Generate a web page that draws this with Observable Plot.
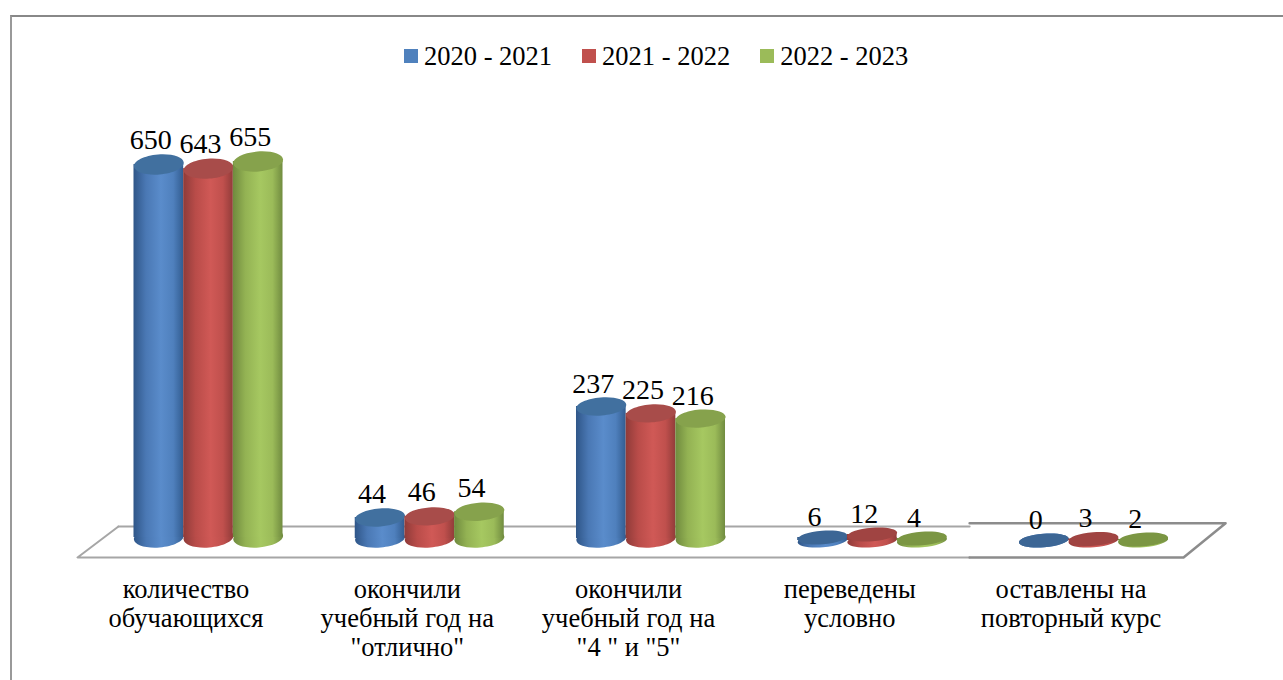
<!DOCTYPE html>
<html lang="ru">
<head>
<meta charset="utf-8">
<script src="https://cdn.jsdelivr.net/npm/d3@7"></script>
<script src="https://cdn.jsdelivr.net/npm/@observablehq/plot@0.6"></script>
<style>
html,body{margin:0;padding:0;background:#fff;overflow:hidden}
body{width:1283px;height:680px;position:relative;font-family:"Liberation Serif",serif;color:#000}
#frame{position:absolute;left:10px;top:15px;right:0;bottom:-5px;border-left:2px solid #999;border-top:2px solid #888;pointer-events:none}
#legend{height:76px;box-sizing:border-box;padding:36px 0 0 404px;display:flex;font-size:26.5px;line-height:28px}
#legend .item{display:flex;align-items:center;margin-right:30px}
#legend .sw{width:14px;height:14px;margin-right:6px;margin-top:-1px}
#chart svg{display:block}
</style>
</head>
<body>
<div id="frame"></div>
<div id="legend"></div>
<div id="chart"></div>
<script>
const categories = ["количество\nобучающихся", "окончили\nучебный год на\n\"отлично\"", "окончили\nучебный год на\n\"4 \" и \"5\"", "переведены\nусловно", "оставлены на\nповторный курс"];
const seriesNames = ["2020 - 2021", "2021 - 2022", "2022 - 2023"];
const values2021 = [650, 44, 237, 6, 0];
const values2022 = [643, 46, 225, 12, 3];
const values2023 = [655, 54, 216, 4, 2];
const swatchColors = ["#4f81bd", "#c0504d", "#9bbb59"];
const capColors = ["#41709f", "#a84c4a", "#86a24c"];
const flatCapColors = ["#3c6695", "#a04442", "#7b9643"];
const gradientStops = [
  ["#2f5688", "#4a78b4", "#5a8ccb", "#4f80bd", "#335d91"],
  ["#8f3b39", "#b94c49", "#d05956", "#c0504d", "#923c3a"],
  ["#6f8a3e", "#93b253", "#a6c861", "#9bbb59", "#718c40"]
];
const baseLevels = [6, 4, 4, 0, 0];
const capRatios = [0.40, 0.36, 0.36, 0.27, 0.27];
const labelLifts = [-16, -15, -14, -12, -12];
const barWidth = 0.2245;
const floorLeft = {x: [-0.407, -0.592, 3.44], y: [27, -34, -34]};
const floorLeftTop = {x: [-0.407, 3.44], y: [27, 27]};
const floorRight = {x: [3.44, 4.597, 4.407, 3.44], y: [33, 33, -34, -34]};

const legend = d3.select("#legend");
seriesNames.forEach((n, s) => {
  const it = legend.append("div").attr("class", "item");
  it.append("div").attr("class", "sw").style("background", swatchColors[s]);
  it.append("div").text(n);
});

function ellipseSymbol(ratio) {
  const th = -4.5 * Math.PI / 180, c = Math.cos(th), sn = Math.sin(th), k = 0.5523;
  return {
    draw(ctx, size) {
      const a = Math.sqrt(size / Math.PI), b = a * ratio;
      const P = (u, v) => [u * a * c - v * b * sn, u * a * sn + v * b * c];
      ctx.moveTo(...P(1, 0));
      ctx.bezierCurveTo(...P(1, k), ...P(k, 1), ...P(0, 1));
      ctx.bezierCurveTo(...P(-k, 1), ...P(-1, k), ...P(-1, 0));
      ctx.bezierCurveTo(...P(-1, -k), ...P(-k, -1), ...P(0, -1));
      ctx.bezierCurveTo(...P(k, -1), ...P(1, -k), ...P(1, 0));
      ctx.closePath();
    }
  };
}

const rows = [values2021, values2022, values2023].map((vals, s) =>
  vals.map((v, i) => ({i, s, v, base: baseLevels[i], cx: i + (s - 1) * barWidth}))
);

function defs() {
  const d = d3.create("svg:defs");
  gradientStops.forEach((st, s) => {
    const g = d.append("linearGradient").attr("id", "cyl" + s).attr("x1", 0).attr("x2", 1).attr("y1", 0).attr("y2", 0);
    [0, 0.25, 0.55, 0.8, 1].forEach((o, j) => g.append("stop").attr("offset", o).attr("stop-color", st[j]));
  });
  return d.node();
}

const marks = [defs];
marks.push(Plot.line(floorLeftTop.x.map((x, j) => ({x, y: floorLeftTop.y[j]})), {x: "x", y: "y", stroke: "#a6a6a6", strokeWidth: 2}));
marks.push(Plot.line(floorLeft.x.map((x, j) => ({x, y: floorLeft.y[j]})), {x: "x", y: "y", stroke: "#a6a6a6", strokeWidth: 2}));
marks.push(Plot.line(floorRight.x.map((x, j) => ({x, y: floorRight.y[j]})), {x: "x", y: "y", stroke: "#8c8c8c", strokeWidth: 2.5}));

rows.forEach((data, s) => {
  data.forEach(d => {
    const sym = ellipseSymbol(capRatios[d.i]);
    marks.push(Plot.dot([d], {x: "cx", y: "base", r: 25, symbol: sym, fill: `url(#cyl${s})`, stroke: "none"}));
    marks.push(Plot.rect([d], {
      x1: e => e.cx - barWidth / 2, x2: e => e.cx + barWidth / 2,
      y1: "base", y2: "v", fill: `url(#cyl${s})`, inset: 0
    }));
    marks.push(Plot.dot([d], {x: "cx", y: "v", r: 25, symbol: sym, fill: d.i > 2 ? flatCapColors[s] : capColors[s], stroke: "none"}));
  });
});
rows.forEach(data => {
  data.forEach(d => {
    marks.push(Plot.text([d], {x: "cx", y: "v", text: e => String(e.v), dx: -8, dy: labelLifts[d.i], lineAnchor: "bottom", fontSize: 28, fill: "#000"}));
  });
});
marks.push(Plot.text(categories.map((t, i) => ({t, i})), {
  x: "i", text: "t", frameAnchor: "top", dx: -22.5, dy: 501, lineAnchor: "top", lineHeight: 1.095, fontSize: 26.5, fill: "#000"
}));

const plot = Plot.plot({
  width: 1283,
  height: 604,
  margin: 0,
  style: {fontFamily: "'Liberation Serif', serif", background: "transparent", overflow: "visible"},
  x: {domain: [0, 4], range: [208, 1093], axis: null},
  y: {type: "linear", domain: [0, 12, 44, 237, 650, 655], range: [464, 458, 441, 330, 88, 85], axis: null},
  marks
});
document.getElementById("chart").appendChild(plot);
</script>
</body>
</html>
